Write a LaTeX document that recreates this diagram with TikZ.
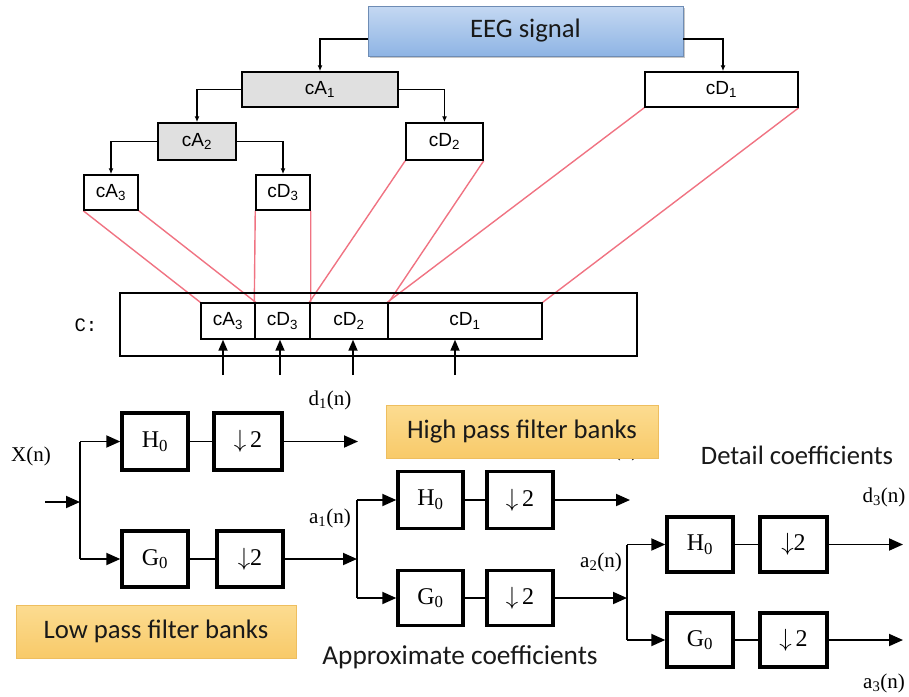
\documentclass[tikz,border=0pt]{standalone}
\usepackage{fontspec}
\setmainfont{Liberation Serif}
\newfontfamily\arialf{Liberation Sans}
\newfontfamily\calib{Carlito}
\newfontfamily\monof{Liberation Mono}
\usetikzlibrary{arrows.meta,backgrounds,shadows}

\definecolor{cellgray}{RGB}{224,224,224}
\definecolor{linkred}{RGB}{240,115,130}
\definecolor{eegtop}{RGB}{196,216,242}
\definecolor{eegbot}{RGB}{142,180,228}
\definecolor{eegline}{RGB}{110,140,180}
\definecolor{bantop}{RGB}{252,220,145}
\definecolor{banbot}{RGB}{248,202,105}
\definecolor{banline}{RGB}{238,190,95}
\definecolor{captxt}{RGB}{25,25,25}

\tikzset{
  tbox/.style={draw, line width=1.5pt, inner sep=0pt,
    font=\arialf\fontsize{19}{21}\selectfont},
  cell/.style={draw, line width=1.4pt, inner sep=0pt,
    font=\arialf\fontsize{19}{21}\selectfont, minimum height=36pt},
  filt/.style={draw, line width=3.4pt, inner sep=0pt,
    font=\fontsize{24}{26}\selectfont},
  tarr/.style={line width=1.3pt, -{Latex[length=6pt,width=5pt]}},
  uparr/.style={line width=1.7pt, -{Triangle[length=11pt,width=9pt]}},
  barr/.style={line width=1.9pt, -{Triangle[length=14pt,width=12pt]}},
  bline/.style={line width=1.9pt},
  redl/.style={draw=linkred, line width=1.4pt},
  sig/.style={font=\fontsize{21}{23}\selectfont, inner sep=0pt},
  banner/.style={draw=banline, line width=0.8pt, top color=bantop,
    bottom color=banbot, text=captxt, font=\calib\fontsize{26.7}{29}\selectfont},
  caption/.style={text=captxt, font=\calib\fontsize{26.6}{29}\selectfont}
}

\begin{document}
\begin{tikzpicture}[x=1pt,y=-1pt]
\useasboundingbox (0,0) rectangle (909,696);

% ---------- decomposition tree ----------
\node[draw=eegline, line width=0.8pt, top color=eegtop, bottom color=eegbot,
      minimum width=315pt, minimum height=50pt, inner sep=0pt,
      drop shadow={shadow xshift=1.5pt, shadow yshift=-2pt, opacity=0.45},
      text=captxt, font=\calib\fontsize{26.7}{29}\selectfont]
      (eeg) at (525.5,31) {EEG signal};

\node[tbox, fill=cellgray, minimum width=156pt, minimum height=35pt] (ca1) at (320,89.5) {cA\textsubscript{1}};
\node[tbox, minimum width=153pt, minimum height=35pt] (cd1) at (721.5,89.5) {cD\textsubscript{1}};
\node[tbox, fill=cellgray, minimum width=78pt, minimum height=37pt] (ca2) at (197,141.5) {cA\textsubscript{2}};
\node[tbox, minimum width=77pt, minimum height=37pt] (cd2) at (444.5,141.5) {cD\textsubscript{2}};
\node[tbox, minimum width=54pt, minimum height=35pt] (ca3) at (111,192.5) {cA\textsubscript{3}};
\node[tbox, minimum width=54pt, minimum height=35pt] (cd3) at (283,192.5) {cD\textsubscript{3}};

\draw[tarr] ([yshift=-8pt]eeg.west) -| (ca1.north);
\draw[tarr] ([yshift=-8pt]eeg.east) -| ([xshift=1.5pt]cd1.north);
\draw[tarr] (ca1.west) -| (ca2.north);
\draw[tarr] (ca1.east) -| (cd2.north);
\draw[tarr] (ca2.west) -| (ca3.north);
\draw[tarr] (ca2.east) -| (cd3.north);

% ---------- coefficient vector C ----------
\node[draw, line width=1.4pt, minimum width=517pt, minimum height=63pt, inner sep=0pt] (cvec) at (378.5,324.5) {};
\node[font=\monof\fontsize{19}{21}\selectfont] (clab) at (86,325) {C:};
\node[cell, minimum width=54pt] (ca3c) at (228,321) {cA\textsubscript{3}};
\node[cell, minimum width=55pt] (cd3c) at (282.5,321) {cD\textsubscript{3}};
\node[cell, minimum width=78pt] (cd2c) at (349,321) {cD\textsubscript{2}};
\node[cell, minimum width=154pt] (cd1c) at (465,321) {cD\textsubscript{1}};

\begin{scope}[on background layer]
  \draw[redl] (ca3.south west) -- (ca3c.north west);
  \draw[redl] (ca3.south east) -- (ca3c.north east);
  \draw[redl] (cd3.south west) -- (cd3c.north west);
  \draw[redl] (cd3.south east) -- (cd3c.north east);
  \draw[redl] (cd2.south west) -- (cd2c.north west);
  \draw[redl] (cd2.south east) -- (cd2c.north east);
  \draw[redl] (cd1.south west) -- (cd1c.north west);
  \draw[redl] (cd1.south east) -- (cd1c.north east);
\end{scope}

\coordinate (u1) at (223,375);
\coordinate (u2) at (280,375);
\coordinate (u3) at (353,375);
\coordinate (u4) at (455,375);
\draw[uparr] (u1) -- (u1 |- ca3c.south);
\draw[uparr] (u2) -- (u2 |- cd3c.south);
\draw[uparr] (u3) -- (u3 |- cd2c.south);
\draw[uparr] (u4) -- (u4 |- cd1c.south);

% ---------- filter bank ----------
% label partly covered by the banner
\node[sig] (d2lab) at (617,451) {d\textsubscript{2}(n)};

\node[filt, minimum width=66pt, minimum height=57pt] (h1) at (155,441.5) {H\textsubscript{0}};
\node[filt, minimum width=68pt, minimum height=57pt] (dh1) at (248,441.5) {$\downarrow$\,2};
\node[filt, minimum width=66pt, minimum height=56pt] (g1) at (155,559) {G\textsubscript{0}};
\node[filt, minimum width=66pt, minimum height=56pt] (dg1) at (250,559) {$\downarrow$2};

\node[filt, minimum width=65pt, minimum height=57pt] (h2) at (430.5,500) {H\textsubscript{0}};
\node[filt, minimum width=66pt, minimum height=57pt] (dh2) at (520,500) {$\downarrow$\,2};
\node[filt, minimum width=65pt, minimum height=55pt] (g2) at (430.5,598) {G\textsubscript{0}};
\node[filt, minimum width=66pt, minimum height=55pt] (dg2) at (520,598) {$\downarrow$\,2};

\node[filt, minimum width=66pt, minimum height=55pt] (h3) at (700,544.5) {H\textsubscript{0}};
\node[filt, minimum width=67pt, minimum height=55pt] (dh3) at (793.5,544.5) {$\downarrow$2};
\node[filt, minimum width=66pt, minimum height=54pt] (g3) at (700,640) {G\textsubscript{0}};
\node[filt, minimum width=67pt, minimum height=54pt] (dg3) at (793.5,640) {$\downarrow$\,2};

% stage 1
\coordinate (xin) at (45,502);
\coordinate (j1) at (80,502);
\draw[barr] (xin) -- (j1);
\draw[bline] (j1 |- h1.west) -- (j1 |- g1.west);
\draw[barr] (j1 |- h1.west) -- (h1.west);
\draw[barr] (j1 |- g1.west) -- (g1.west);
\draw[bline] (h1) -- (dh1);
\draw[bline] (g1) -- (dg1);
\coordinate (o1) at (358,441.5);
\draw[barr] (dh1.east) -- (o1);

% stage 2
\coordinate (j2) at (357,557);
\draw[barr] (dg1.east) -- (dg1.east -| j2);
\draw[bline] (j2 |- h2.west) -- (j2 |- g2.west);
\draw[barr] (j2 |- h2.west) -- (h2.west);
\draw[barr] (j2 |- g2.west) -- (g2.west);
\draw[bline] (h2) -- (dh2);
\draw[bline] (g2) -- (dg2);
\coordinate (o2) at (630,500);
\draw[barr] (dh2.east) -- (o2);

% stage 3
\coordinate (j3) at (627,598);
\draw[barr] (dg2.east) -- (j3);
\draw[bline] (j3 |- h3.west) -- (j3 |- g3.west);
\draw[barr] (j3 |- h3.west) -- (h3.west);
\draw[barr] (j3 |- g3.west) -- (g3.west);
\draw[bline] (h3) -- (dh3);
\draw[bline] (g3) -- (dg3);
\coordinate (o3) at (903,544.5);
\coordinate (o4) at (903,640);
\draw[barr] (dh3.east) -- (o3);
\draw[barr] (dg3.east) -- (o4);

% signal labels
\node[sig] (xlab) at (31,456) {X(n)};
\node[sig] (d1lab) at (330,400) {d\textsubscript{1}(n)};
\node[sig] (a1lab) at (330,518) {a\textsubscript{1}(n)};
\node[sig] (a2lab) at (601,562) {a\textsubscript{2}(n)};
\node[sig] (d3lab) at (884,497) {d\textsubscript{3}(n)};
\node[sig] (a3lab) at (884,683) {a\textsubscript{3}(n)};

% banners and captions
\node[banner, minimum width=272pt, minimum height=53pt] (hp) at (522,431.5) {High pass filter banks};
\node[banner, minimum width=280pt, minimum height=53pt] (lp) at (156,631.5) {Low pass filter banks};
\node[caption] (detail) at (797,455) {Detail coefficients};
\node[caption, font=\calib\fontsize{27.3}{29}\selectfont] (approx) at (460,657) {Approximate coefficients};
\end{tikzpicture}
\end{document}
